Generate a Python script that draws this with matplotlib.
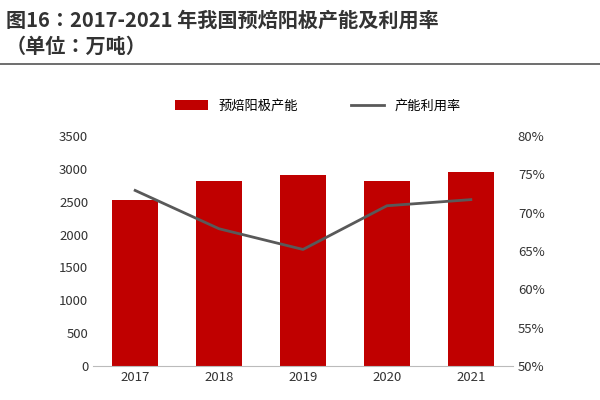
import matplotlib
matplotlib.use("Agg")
import matplotlib.pyplot as plt
from matplotlib import font_manager
from matplotlib.ticker import FuncFormatter

cjk = [f.name for f in font_manager.fontManager.ttflist if "CJK" in f.name]
cjk_name = next((n for n in cjk if "SC" in n), cjk[0] if cjk else "DejaVu Sans")
plt.rcParams["font.family"] = [cjk_name, "DejaVu Sans"]
plt.rcParams["axes.unicode_minus"] = False

years = ["2017", "2018", "2019", "2020", "2021"]
capacity = [2530, 2815, 2905, 2815, 2950]
utilization = [72.9, 67.9, 65.2, 70.9, 71.7]

fig = plt.figure(figsize=(6, 4), dpi=100)
fig.text(0.01, 0.975, "图16：2017-2021 年我国预焙阳极产能及利用率", fontsize=14.5,
         fontweight="bold", color="#333333", va="top")
fig.text(0.01, 0.91, "（单位：万吨）", fontsize=14.5, fontweight="bold",
         color="#333333", va="top")
fig.add_artist(plt.Line2D([0.0, 1.0], [0.84, 0.84], color="#555555", lw=1.2))

ax = fig.add_axes([0.155, 0.085, 0.70, 0.575])
ax.bar(years, capacity, width=0.55, color="#C00000", label="预焙阳极产能")
ax.set_ylim(0, 3500)
ax.set_yticks(range(0, 3501, 500))
for s in ["top", "right", "left"]:
    ax.spines[s].set_visible(False)
ax.spines["bottom"].set_color("#BBBBBB")
ax.tick_params(axis="both", length=0, labelsize=9.5, colors="#333333")

ax2 = ax.twinx()
ax2.plot(years, utilization, color="#595959", lw=2, label="产能利用率")
ax2.set_ylim(50, 80)
ax2.set_yticks(range(50, 81, 5))
ax2.yaxis.set_major_formatter(FuncFormatter(lambda v, p: f"{v:.0f}%"))
for s in ["top", "right", "left", "bottom"]:
    ax2.spines[s].set_visible(False)
ax2.tick_params(axis="y", length=0, labelsize=9.5, colors="#333333")

h1, l1 = ax.get_legend_handles_labels()
h2, l2 = ax2.get_legend_handles_labels()
fig.legend(h1 + h2, l1 + l2, loc="center", bbox_to_anchor=(0.53, 0.735), ncol=2,
           frameon=False, fontsize=9.5, handlelength=2.5, columnspacing=4)

fig.savefig("out.png", dpi=100)
